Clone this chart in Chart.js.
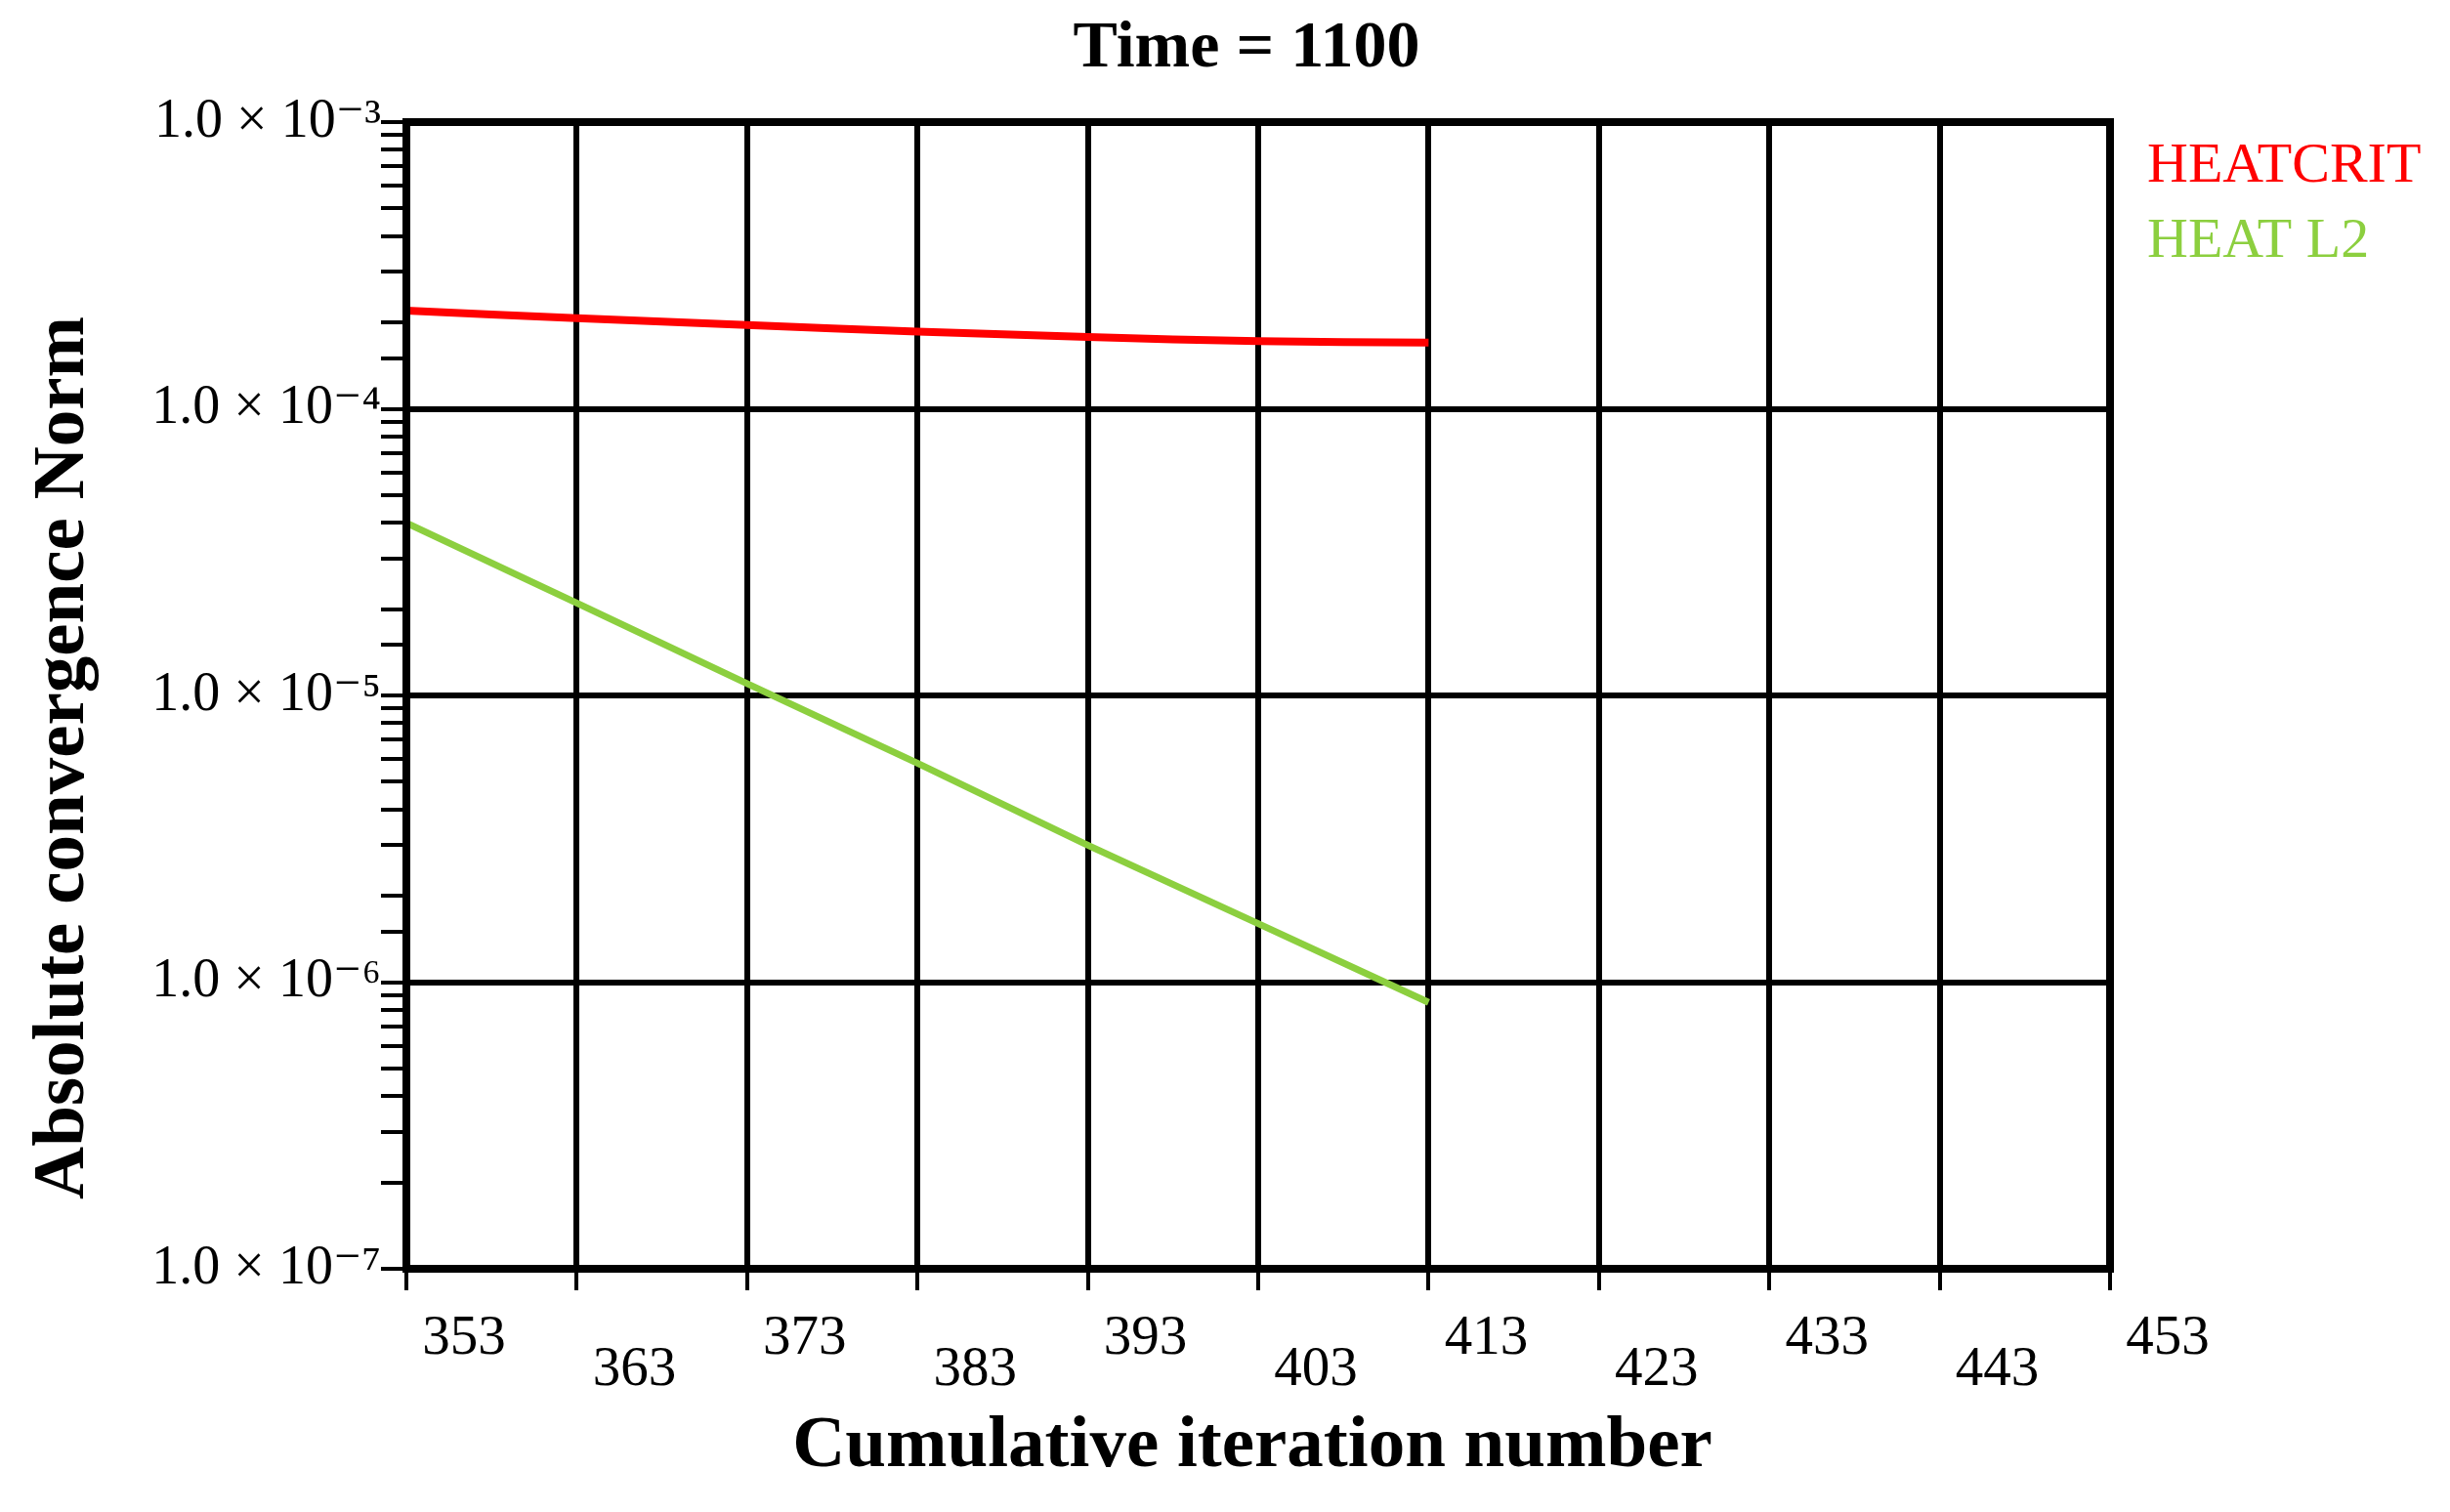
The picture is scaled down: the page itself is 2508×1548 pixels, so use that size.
<!DOCTYPE html>
<html><head><meta charset="utf-8">
<script src="https://cdn.jsdelivr.net/npm/chart.js@4"></script>
<style>html,body{margin:0;padding:0;background:#fff}canvas{display:block}</style>
</head><body>
<div style="width:2508px;height:1548px"><canvas id="c"></canvas></div>
<script>
const iterations = [353, 363, 373, 383, 393, 403, 413];
const heatCrit = [2.2e-4, 2.07e-4, 1.96e-4, 1.86e-4, 1.78e-4, 1.72e-4, 1.7e-4];
const heatL2 = [4.0e-5, 2.1e-5, 1.1e-5, 5.8e-6, 3.0e-6, 1.6e-6, 8.5e-7];
const xTicks = [353, 363, 373, 383, 393, 403, 413, 423, 433, 443, 453];
const yMajor = {'-3':'1.0 × 10⁻³','-4':'1.0 × 10⁻⁴','-5':'1.0 × 10⁻⁵','-6':'1.0 × 10⁻⁶','-7':'1.0 × 10⁻⁷'};
const seriesNames = ['HEATCRIT', 'HEAT L2'];
const colors = ['#ff0000', '#8ccf3f'];
const SERIF = '"Liberation Serif", "DejaVu Serif", serif';

function isMajor(v){const l=Math.log10(v);return Math.abs(l-Math.round(l))<1e-6;}

const decor = {
  id:'decor',
  afterDraw(chart){
    const ctx=chart.ctx, x=chart.scales.x, a=chart.chartArea;
    ctx.save();
    ctx.fillStyle='#000';
    ctx.font='57px '+SERIF; ctx.textAlign='center'; ctx.textBaseline='middle';
    xTicks.forEach((t,i)=>{
      const px=x.getPixelForValue(t)+59;
      ctx.fillText(String(t), px, i%2===0?1371:1403);
    });
    ctx.font='bold 68px '+SERIF;
    ctx.fillText('Time = 1100', 1276, 50);
    ctx.font='bold 75px '+SERIF;
    ctx.fillText('Cumulative iteration number', 1282, 1482);
    ctx.save(); ctx.translate(66, 776); ctx.rotate(-Math.PI/2);
    ctx.fillText('Absolute convergence Norm', 0, 0); ctx.restore();
    ctx.textAlign='left'; ctx.font='58px '+SERIF;
    seriesNames.forEach((n,i)=>{ctx.fillStyle=colors[i]; ctx.fillText(n, 2198, 171+i*77);});
    ctx.lineWidth=8; ctx.strokeStyle='#000';
    ctx.strokeRect(a.left,a.top,a.right-a.left,a.bottom-a.top);
    ctx.restore();
  }
};

new Chart(document.getElementById('c'), {
  type:'line',
  data:{datasets:[
    {label:seriesNames[0], data:iterations.map((x,i)=>({x,y:heatCrit[i]})), borderColor:colors[0], borderWidth:8, pointRadius:0, tension:0.3},
    {label:seriesNames[1], data:iterations.map((x,i)=>({x,y:heatL2[i]})), borderColor:colors[1], borderWidth:7, pointRadius:0, tension:0}
  ]},
  options:{
    responsive:true, maintainAspectRatio:false, animation:false,
    layout:{padding:{top:125,right:348,left:0,bottom:0}},
    plugins:{legend:{display:false},title:{display:false},tooltip:{enabled:false}},
    scales:{
      x:{type:'linear', min:353, max:453,
        afterBuildTicks:s=>{s.ticks=xTicks.map(v=>({value:v}));},
        afterFit:s=>{s.height=249;},
        ticks:{display:true, color:'rgba(0,0,0,0)', font:{size:10}, callback:()=>''},
        grid:{color:'#000', lineWidth:6, tickLength:22, tickWidth:4, tickColor:'#000'},
        border:{display:false}},
      y:{type:'logarithmic', min:1e-7, max:1e-3,
        afterFit:s=>{s.width=416;},
        ticks:{autoSkip:false, color:'#000', padding:0, font:{family:SERIF,size:56},
          callback:(v)=>{if(!isMajor(v))return '';return yMajor[String(Math.round(Math.log10(v)))]||'';}},
        grid:{color:c=>isMajor(c.tick.value)?'#000':'rgba(0,0,0,0)', lineWidth:6, tickLength:26, tickWidth:4, tickColor:'#000'},
        border:{display:false}}
    }
  },
  plugins:[decor]
});
</script>
</body></html>
